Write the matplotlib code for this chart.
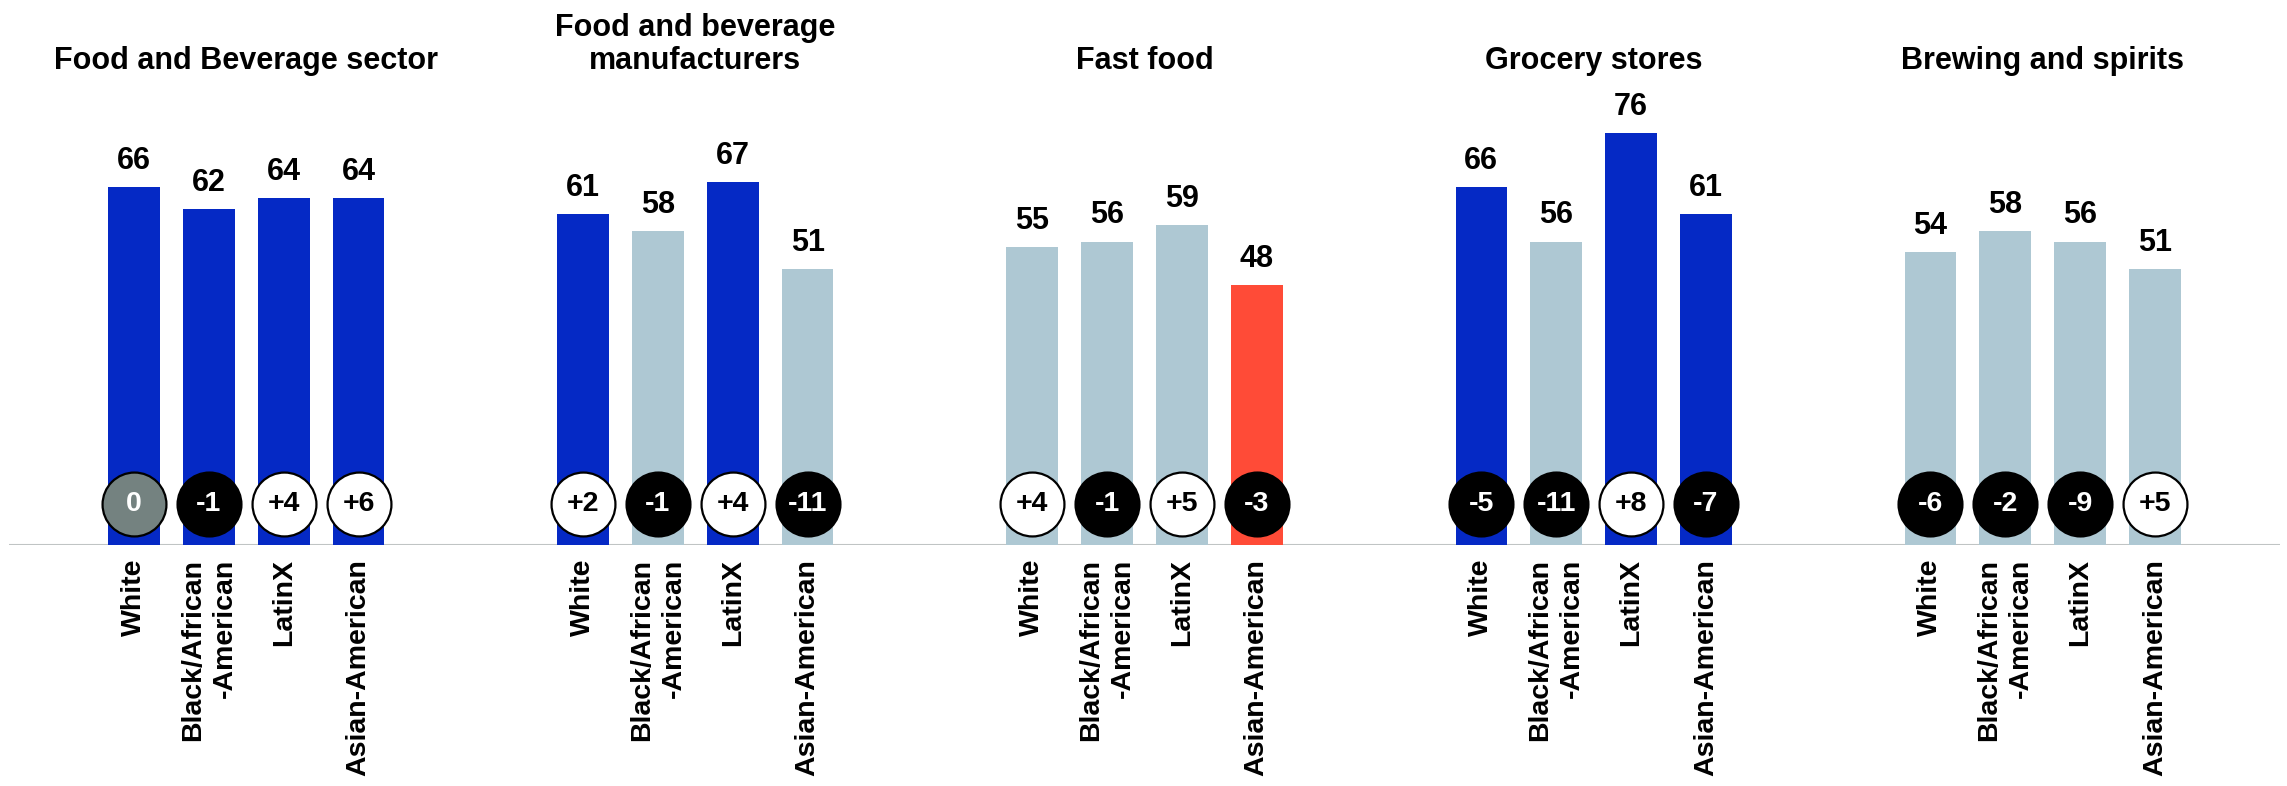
import matplotlib
matplotlib.use('Agg')
import matplotlib.pyplot as plt
import numpy as np

plt.rcParams['font.family'] = ['Liberation Sans', 'DejaVu Sans']

panels = ['Food and Beverage sector', 'Food and beverage\nmanufacturers', 'Fast food',
          'Grocery stores', 'Brewing and spirits']
groups = ['White', 'Black/African\n-American', 'LatinX', 'Asian-American']

values = [
    [66, 62, 64, 64],
    [61, 58, 67, 51],
    [55, 56, 59, 48],
    [66, 56, 76, 61],
    [54, 58, 56, 51],
]
diffs = [
    [0, -1, 4, 6],
    [2, -1, 4, -11],
    [4, -1, 5, -3],
    [-5, -11, 8, -7],
    [-6, -2, -9, 5],
]
# b = blue (above), g = grey-blue (neutral), r = red (below)
bar_kind = [
    ['b', 'b', 'b', 'b'],
    ['b', 'g', 'b', 'g'],
    ['g', 'g', 'g', 'r'],
    ['b', 'g', 'b', 'b'],
    ['g', 'g', 'g', 'g'],
]

colors = {'b': '#0529c5', 'g': '#aec8d3', 'r': '#ff4b37'}

fig = plt.figure(figsize=(22.87, 7.86), dpi=100)
ax = fig.add_axes([9 / 2287, 1 - 545 / 786, 2271 / 2287, 0.5654])

x_all = []
for p in range(len(panels)):
    x = np.arange(4) + p * 6
    x_all.extend(x)
    ax.bar(x, values[p], width=0.69, color=[colors[k] for k in bar_kind[p]], zorder=2)
    for xi, v in zip(x, values[p]):
        ax.annotate(str(v), (xi, v), xytext=(0, 13), textcoords='offset points',
                    ha='center', va='baseline', fontsize=22, fontweight='bold')
    for xi, d in zip(x, diffs[p]):
        if d > 0:
            fc, tc, txt = 'white', 'black', f'+{d}'
        elif d < 0:
            fc, tc, txt = 'black', 'white', str(d)
        else:
            fc, tc, txt = '#748280', 'white', '0'
        ax.scatter([xi], [7.56], s=46 ** 2, facecolor=fc, edgecolor='black',
                   linewidth=1.6, zorder=3)
        ax.text(xi, 7.56, txt, ha='center', va='center', fontsize=20.5,
                fontweight='bold', color=tc, zorder=4)
    ax.text(x.mean(), 86.6, panels[p], ha='center', va='bottom', fontsize=22,
            fontweight='bold', linespacing=1.1, clip_on=False)

ax.axhline(0, color='#c0c4c4', lw=1.5, zorder=1)
ax.set_xlim(-1.67, 28.67)
ax.set_ylim(0, 82)
ax.set_xticks(x_all, groups * len(panels), rotation=90, fontsize=20.5, fontweight='bold')
for lab in ax.get_xticklabels():
    lab.set_multialignment('right')
    lab.set_linespacing(1.27)
ax.tick_params(axis='x', length=0, pad=10)
ax.set_yticks([])
for s in ax.spines.values():
    s.set_visible(False)

plt.savefig('out.png', dpi=100)
